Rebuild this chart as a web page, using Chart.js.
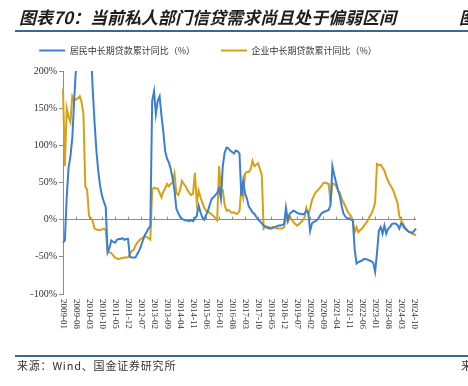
<!DOCTYPE html>
<html>
<head>
<meta charset="utf-8">
<script src="https://cdn.jsdelivr.net/npm/chart.js@4.4.1/dist/chart.umd.min.js"></script>
<style>
  html, body { margin: 0; padding: 0; background: #fff; }
  #wrap { position: relative; width: 468px; height: 386px; overflow: hidden; }
  #chart { position: absolute; left: 0; top: 0; }
  .title { position: absolute; top: 4px; font: italic bold 17px "Noto Sans CJK SC"; color: #1e1e1e; white-space: nowrap; }
  .rule { position: absolute; left: 15px; width: 453px; height: 2px; background: #3b6a88; }
  .source { position: absolute; top: 357px; font: 11px "Noto Sans CJK SC"; letter-spacing: 0.8px; color: #333; white-space: nowrap; }
</style>
</head>
<body>
<div id="wrap">
  <canvas id="chart" width="468" height="386"></canvas>
  <div class="title" style="left:19px">图表70：当前私人部门信贷需求尚且处于偏弱区间</div>
  <div class="title" style="left:459px">图表71</div>
  <div class="rule" style="top:30px"></div>
  <div class="rule" style="top:355px"></div>
  <div class="source" style="left:17px">来源：Wind、国金证券研究所</div>
  <div class="source" style="left:461px">来源</div>
</div>
<script>
// ── Data (monthly, 2009-01 … 2024-11) ──────────────────────────────────────
const START_YEAR = 2009;
const N_MONTHS = 191;
const months = [];
for (let i = 0; i < N_MONTHS; i++) {
  const y = START_YEAR + Math.floor(i / 12);
  const m = (i % 12) + 1;
  months.push(y + "-" + String(m).padStart(2, "0"));
}

// labels shown under the axis
const tickLabels = [
  "2009-01", "2009-08", "2010-03", "2010-10", "2011-05", "2011-12", "2012-07",
  "2013-02", "2013-09", "2014-04", "2014-11", "2015-06", "2016-01", "2016-08",
  "2017-03", "2017-10", "2018-05", "2018-12", "2019-07", "2020-02", "2020-09",
  "2021-04", "2021-11", "2022-06", "2023-01", "2023-08", "2024-03", "2024-10",
];

const yTicks = [-100, -50, 0, 50, 100, 150, 200];

const seriesNames = ["居民中长期贷款累计同比（%）", "企业中长期贷款累计同比（%）"];

// 居民中长期贷款累计同比 (%)
const household = [
  -31, -28, 30, 70, 85, 110, 160, 205, 240, 270,
  290, 300, 295, 280, 260, 230, 175, 130, 92, 65,
  45, 32, 24, 17, -44, -38, -28, -30, -31, -27,
  -26, -26, -25, -27, -26, -26, -50, -51, -51, -51,
  -46, -42, -35, -28, -21, -17, -12, -9, 160, 173,
  142, 160, 166, 140, 118, 92, 82, 77, 68, 55,
  40, 15, 9, 4, 1, 0, -1, -1, -2, -1,
  -2, 2, 5, 19, 10, 3, 0, 6, 12, 20,
  28, 30, 33, 36, 42, 28, 72, 90, 97, 96,
  93, 91, 89, 93, 92, 89, 32, 52, 35, 28,
  18, 14, 10, 8, 4, 0, -2, -5, -8, -9,
  -11, -12, -12, -11, -10, -9, -8, -8, -7, -6,
  16, -1, 8, 10, 12, 11, 9, 8, 8, 7,
  8, 12, 10, -15, -5, -3, -2, 0, 4, 8,
  10, 11, 12, 13, 20, 72, 60, 50, 40, 32,
  18, 8, 4, 2, 1, 0, -1, -40, -59, -57,
  -56, -55, -53, -53, -54, -55, -56, -58, -70, -45,
  -15, -10, -19, -8, -19, -12, -10, -6, -5, -5,
  -7, -12, -5, -8, -12, -14, -16, -17, -18, -15,
  -12,
];

// 企业中长期贷款累计同比 (%)
const corporate = [
  176, 72, 150, 138, 131, 166, 160, 162, 163, 166,
  158, 142, 45, 40, 5, 2, -2, -12, -13, -14,
  -14, -13, -12, -14, -42, -44, -45, -48, -51, -52,
  -53, -52, -52, -51, -51, -51, -46, -42, -41, -35,
  -31, -28, -26, -24, -22, -23, -25, -27, 40, 43,
  42, 42, 36, 30, 38, 42, 48, 45, 48, 50,
  62, 36, 33, 40, 52, 48, 45, 40, 36, 33,
  35, 63, 23, 39, 30, 23, 16, 12, 10, 9,
  7, 5, 2, -1, 72, 42, 40, 20, 12, 13,
  11, 9, 10, 8, 8, 12, 43, 30, 62, 64,
  64, 68, 79, 72, 74, 76, 68, 60, -12, -9,
  -10, -10, -11, -10, -10, -12, -12, -12, -12, -10,
  3, -3, 5, 0, -3, -6, -8, -6, -4, -1,
  3, 16, 8, 15, 26, 32, 37, 39, 42, 45,
  49, 50, 49, 48, 23, 49, 48, 45, 40, 36,
  28, 23, 18, 12, 8, 5, -1, -17, -10, -17,
  -14, -12, -8, -5, -1, 4, 8, 14, 23, 75,
  73, 74, 70, 66, 58, 52, 47, 43, 38, 30,
  23, 5, -1, -5, -10, -13, -16, -17, -19, -20,
  -21,
];

// ── Styling ────────────────────────────────────────────────────────────────
const C = {
  blue:  "#3a7fd5",
  gold:  "#d6a017",
  axis:  "#8c8c8c",
  text:  "#333333",
};

// legend needs a little more room underneath than Chart.js gives it
const legendSpace = {
  id: "legendSpace",
  beforeInit(chart) {
    const fit = chart.legend.fit;
    chart.legend.fit = function () {
      fit.call(this);
      this.height += 6;
    };
  },
};

// month labels read top-to-bottom, plus short tick marks on the 0% line
const monthAxis = {
  id: "monthAxis",
  beforeDatasetsDraw(chart) {
    const { ctx, scales: { x, y } } = chart;
    const y0 = y.getPixelForValue(0);
    ctx.save();
    ctx.strokeStyle = C.axis;
    ctx.lineWidth = 1;
    ctx.beginPath();
    for (const lab of tickLabels) {
      const px = Math.round(x.getPixelForValue(months.indexOf(lab))) + 0.5;
      ctx.moveTo(px, y0);
      ctx.lineTo(px, y0 - 3);
    }
    ctx.stroke();
    ctx.restore();
  },
  afterDraw(chart) {
    const { ctx, scales: { x, y } } = chart;
    ctx.save();
    ctx.font = '9px "Liberation Serif"';
    ctx.fillStyle = C.text;
    ctx.textAlign = "left";
    ctx.textBaseline = "middle";
    for (const lab of tickLabels) {
      const px = x.getPixelForValue(months.indexOf(lab));
      ctx.save();
      ctx.translate(px, y.bottom + 5);
      ctx.rotate(Math.PI / 2);
      ctx.fillText(lab, 0, 0);
      ctx.restore();
    }
    ctx.restore();
  },
};

new Chart(document.getElementById("chart"), {
  type: "line",
  data: {
    labels: months,
    datasets: [
      {
        label: seriesNames[0],
        data: household,
        borderColor: C.blue,
        backgroundColor: C.blue,
        borderWidth: 2,
        pointRadius: 0,
        tension: 0,
      },
      {
        label: seriesNames[1],
        data: corporate,
        borderColor: C.gold,
        backgroundColor: C.gold,
        borderWidth: 2,
        pointRadius: 0,
        tension: 0,
      },
    ],
  },
  options: {
    responsive: false,
    animation: false,
    layout: { padding: { top: 20, left: 0, right: 52, bottom: 92 } },
    plugins: {
      legend: {
        position: "top",
        labels: {
          color: C.text,
          font: { family: "Noto Sans CJK SC", size: 9 },
          usePointStyle: true,
          pointStyle: "line",
          pointStyleWidth: 26,
          boxHeight: 9,
          padding: 26,
        },
      },
      tooltip: { enabled: false },
    },
    scales: {
      x: {
        type: "category",
        display: false,
        offset: false,
      },
      y: {
        min: -100,
        max: 200,
        afterBuildTicks: (scale) => { scale.ticks = yTicks.map((v) => ({ value: v })); },
        afterFit: (scale) => { scale.width = 63; },
        ticks: {
          color: C.text,
          font: { family: "Liberation Serif", size: 10 },
          padding: 2,
          callback: (v) => v + "%",
        },
        grid: {
          color: (ctx) => (ctx.tick && ctx.tick.value === 0 ? C.axis : "transparent"),
          tickColor: C.axis,
          tickLength: 4,
          lineWidth: 1,
        },
        border: { display: true, color: C.axis, width: 1 },
      },
    },
  },
  plugins: [legendSpace, monthAxis],
});
</script>
</body>
</html>
